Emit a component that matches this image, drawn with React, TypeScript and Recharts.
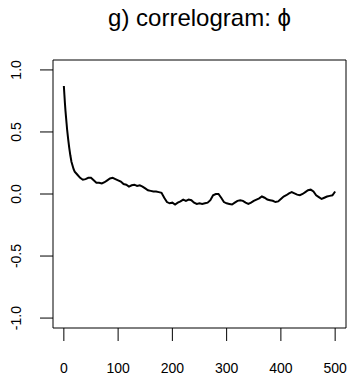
import { LineChart, Line, XAxis, YAxis, ReferenceArea } from "recharts";

// lag values (denser at the start where the curve drops fast)
const lags = [
  0, 1, 2, 3, 4, 5, 6, 8, 10, 12, 14, 16, 18, 20, 25, 30, 35, 40, 45, 50,
  55, 60, 65, 70, 75, 80, 85, 90, 95, 100, 105, 110, 115, 120, 125, 130, 135, 140, 145, 150,
  155, 160, 165, 170, 175, 180, 185, 190, 195, 200, 205, 210, 215, 220, 225, 230, 235, 240, 245, 250,
  255, 260, 265, 270, 275, 280, 285, 290, 295, 300, 305, 310, 315, 320, 325, 330, 335, 340, 345, 350,
  355, 360, 365, 370, 375, 380, 385, 390, 395, 400, 405, 410, 415, 420, 425, 430, 435, 440, 445, 450,
  455, 460, 465, 470, 475, 480, 485, 490, 495, 500,
];

// autocorrelation of phi
const acf = [
  0.87, 0.8, 0.73, 0.67, 0.62, 0.57, 0.52, 0.44, 0.37, 0.31, 0.26, 0.23, 0.2, 0.18, 0.155, 0.13, 0.115, 0.12, 0.13, 0.13,
  0.11, 0.09, 0.09, 0.085, 0.095, 0.11, 0.125, 0.13, 0.12, 0.11, 0.1, 0.08, 0.075, 0.06, 0.07, 0.075, 0.065, 0.07, 0.06, 0.045,
  0.03, 0.025, 0.02, 0.02, 0.015, 0.01, -0.03, -0.065, -0.075, -0.07, -0.085, -0.07, -0.06, -0.045, -0.055, -0.045, -0.05, -0.07, -0.08, -0.075,
  -0.08, -0.075, -0.07, -0.05, -0.01, 0.0, 0.0, -0.03, -0.065, -0.075, -0.08, -0.085, -0.07, -0.055, -0.05, -0.055, -0.07, -0.08, -0.07, -0.055,
  -0.045, -0.035, -0.02, -0.03, -0.045, -0.05, -0.055, -0.065, -0.06, -0.04, -0.02, -0.01, 0.005, 0.015, 0.005, -0.005, -0.01, 0.0, 0.015, 0.03,
  0.035, 0.02, -0.01, -0.025, -0.04, -0.03, -0.02, -0.015, -0.01, 0.02,
];

const xTicks = [0, 100, 200, 300, 400, 500];
const yTicks = [-1, -0.5, 0, 0.5, 1];

const data = lags.map((lag, i) => ({ lag, acf: acf[i] }));

const font = '"Liberation Sans", Arial, sans-serif';

const XTick = ({ x, y, payload }: any) => (
  <text x={x} y={y + 30} textAnchor="middle" fontSize={14} fontFamily={font} fill="#000">
    {payload.value}
  </text>
);

const YTick = ({ y, payload }: any) => (
  <text
    x={16}
    y={y}
    transform={`rotate(-90, 16, ${y})`}
    textAnchor="middle"
    dominantBaseline="central"
    fontSize={14}
    fontFamily={font}
    fill="#000"
  >
    {payload.value.toFixed(1)}
  </text>
);

export default function App() {
  return (
    <div style={{ position: "absolute", left: 0, top: 0, width: 348, height: 383, background: "#fff" }}>
      <div
        style={{
          position: "absolute",
          left: 53,
          top: 4,
          width: 293,
          textAlign: "center",
          fontFamily: font,
          fontSize: 24,
          lineHeight: "28px",
        }}
      >
        g) correlogram: ϕ
      </div>
      <LineChart width={348} height={383} data={data} margin={{ top: 60, right: 2, bottom: 0, left: 0 }}>
        <XAxis
          dataKey="lag"
          type="number"
          domain={[-20, 520]}
          allowDataOverflow
          ticks={xTicks}
          height={55}
          axisLine={false}
          tickSize={13}
          tickLine={{ stroke: "#000" }}
          tick={<XTick />}
        />
        <YAxis
          type="number"
          domain={[-1.08, 1.08]}
          allowDataOverflow
          ticks={yTicks}
          width={53}
          axisLine={false}
          tickSize={13}
          tickLine={{ stroke: "#000" }}
          tick={<YTick />}
        />
        <ReferenceArea x1={-20} x2={520} y1={-1.08} y2={1.08} fill="none" stroke="#000" strokeWidth={1} />
        <Line dataKey="acf" stroke="#000" strokeWidth={2} dot={false} isAnimationActive={false} />
      </LineChart>
    </div>
  );
}
